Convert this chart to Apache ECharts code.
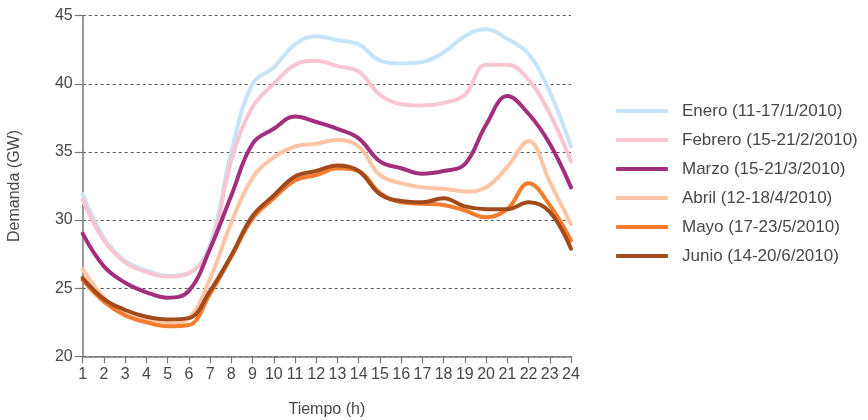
<!DOCTYPE html>
<html>
<head>
<meta charset="utf-8">
<script src="https://cdn.jsdelivr.net/npm/echarts@6/dist/echarts.min.js"></script>
<style>
html,body{margin:0;padding:0;background:#fff;}
#chart{width:868px;height:420px;}
</style>
</head>
<body>
<div id="chart"></div>
<script>
const hours = [1,2,3,4,5,6,7,8,9,10,11,12,13,14,15,16,17,18,19,20,21,22,23,24];
const seriesNames = [
  'Enero (11-17/1/2010)',
  'Febrero (15-21/2/2010)',
  'Marzo (15-21/3/2010)',
  'Abril (12-18/4/2010)',
  'Mayo (17-23/5/2010)',
  'Junio (14-20/6/2010)'
];
const enero   = [31.9, 28.7, 27.0, 26.3, 25.9, 26.1, 28.2, 35.0, 40.0, 41.2, 42.9, 43.5, 43.2, 42.9, 41.7, 41.5, 41.6, 42.3, 43.5, 44.0, 43.3, 42.2, 39.4, 35.4];
const febrero = [31.5, 28.5, 26.9, 26.2, 25.85, 26.1, 27.9, 34.4, 38.3, 40.0, 41.4, 41.7, 41.3, 40.9, 39.2, 38.5, 38.4, 38.6, 39.2, 41.4, 41.4, 40.3, 37.8, 34.3];
const marzo   = [29.0, 26.6, 25.4, 24.7, 24.3, 24.8, 27.9, 31.8, 35.6, 36.7, 37.6, 37.2, 36.7, 36.0, 34.3, 33.8, 33.4, 33.6, 34.1, 37.0, 39.1, 37.8, 35.6, 32.4];
const abril   = [26.4, 24.3, 23.1, 22.6, 22.4, 22.8, 25.7, 29.8, 33.1, 34.6, 35.4, 35.6, 35.9, 35.4, 33.3, 32.7, 32.4, 32.3, 32.1, 32.4, 33.9, 35.8, 32.8, 29.7];
const mayo    = [25.6, 24.0, 23.0, 22.5, 22.2, 22.3, 24.6, 27.3, 30.1, 31.6, 32.9, 33.3, 33.8, 33.6, 32.0, 31.3, 31.2, 31.1, 30.7, 30.2, 30.8, 32.7, 31.1, 28.5];
const junio   = [25.75, 24.2, 23.4, 22.9, 22.7, 22.8, 24.8, 27.4, 30.3, 31.8, 33.2, 33.6, 34.0, 33.6, 31.9, 31.4, 31.3, 31.6, 31.0, 30.8, 30.8, 31.3, 30.6, 27.9];
const yTicks = [20, 25, 30, 35, 40, 45];

const colors = ['#c6e3f7', '#f9c5d1', '#a22e7c', '#fec5a5', '#f57c2c', '#a14b1c'];
const allData = [enero, febrero, marzo, abril, mayo, junio];
const FONT = '"Liberation Sans", Arial, sans-serif';
const TXT = '#484848';

const chart = echarts.init(document.getElementById('chart'), null, {renderer: 'canvas'});
chart.setOption({
  animation: false,
  backgroundColor: '#fff',
  textStyle: {fontFamily: FONT},
  grid: {left: 82.7, right: 297, top: 15.7, bottom: 63.7, containLabel: false, outerBoundsMode: 'none'},
  legend: {
    orient: 'vertical',
    left: 611,
    top: 96,
    itemWidth: 52,
    itemHeight: 4,
    itemGap: 9,
    icon: 'roundRect',
    data: seriesNames,
    textStyle: {fontSize: 17, color: TXT, fontFamily: FONT, lineHeight: 20, padding: [0, 0, 0, 9]}
  },
  xAxis: {
    type: 'value',
    min: 1, max: 24, interval: 1,
    name: 'Tiempo (h)',
    nameLocation: 'middle',
    nameGap: 45,
    nameTextStyle: {fontSize: 16, color: TXT, fontFamily: FONT},
    axisLine: {show: true, lineStyle: {color: '#777', width: 1.5}},
    axisTick: {show: true, length: 7, lineStyle: {color: '#777', width: 1.2}},
    axisLabel: {fontSize: 16, color: TXT, margin: 10, fontFamily: FONT},
    splitLine: {show: false}
  },
  yAxis: {
    type: 'value',
    min: yTicks[0], max: yTicks[yTicks.length - 1], interval: 5,
    name: 'Demanda (GW)',
    nameLocation: 'middle',
    nameGap: 60,
    nameTextStyle: {fontSize: 16, color: TXT, fontFamily: FONT},
    axisLine: {show: true, lineStyle: {color: '#777', width: 1.5}},
    axisTick: {show: true, length: 8, lineStyle: {color: '#777', width: 1.2}},
    axisLabel: {fontSize: 16, color: TXT, margin: 10, fontFamily: FONT},
    splitLine: {show: true, lineStyle: {color: '#555', width: 1, type: [3, 3]}}
  },
  series: seriesNames.map((n, i) => ({
    name: n,
    type: 'line',
    smooth: 0.4,
    symbol: 'none',
    data: hours.map((h, j) => [h, allData[i][j]]),
    lineStyle: {color: colors[i], width: 4, cap: 'round', join: 'round'},
    itemStyle: {color: colors[i]},
    z: 2 + i
  }))
});
</script>
</body>
</html>
